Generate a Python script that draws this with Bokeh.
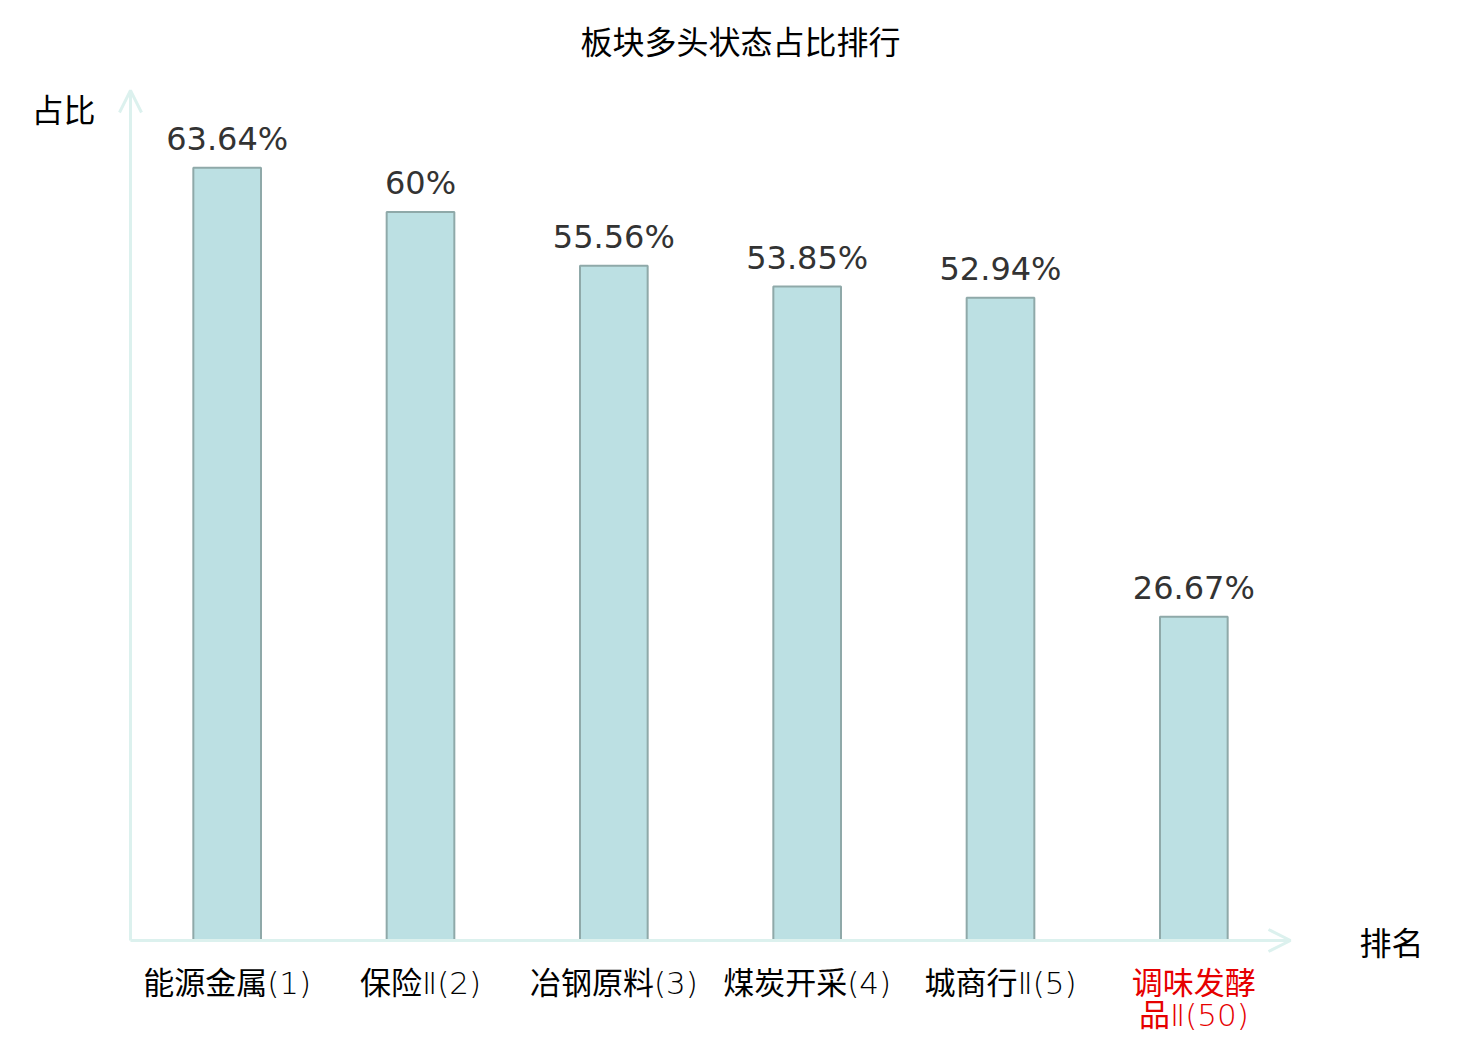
from bokeh.plotting import figure
from bokeh.models import ColumnDataSource, Arrow, OpenHead, Range1d
from bokeh.core.properties import value
from bokeh.embed import file_html
from bokeh.resources import INLINE

categories = ["能源金属(1)", "保险Ⅱ(2)", "冶钢原料(3)", "煤炭开采(4)", "城商行Ⅱ(5)", "调味发酵品Ⅱ(50)"]
display_labels = ["能源金属(1)", "保险Ⅱ(2)", "冶钢原料(3)", "煤炭开采(4)", "城商行Ⅱ(5)", "调味发酵\n品Ⅱ(50)"]
label_colors = ["#000000", "#000000", "#000000", "#000000", "#000000", "#e60000"]
values = [63.64, 60, 55.56, 53.85, 52.94, 26.67]
value_texts = ["63.64%", "60%", "55.56%", "53.85%", "52.94%", "26.67%"]
title_text = "板块多头状态占比排行"
y_name = "占比"
x_name = "排名"
y_max = 70

W, H = 1464, 1032
AXIS_COLOR = "#dcf1ee"
CJK = value("Noto Sans CJK SC")
MIXED = value("DejaVu Sans ExtraLight, DejaVu Sans Light, DejaVu Sans, Noto Sans CJK SC")

n = len(categories)
idx = list(range(n))

p = figure(width=W, height=H, x_range=Range1d(-1.1724, 6.4), y_range=Range1d(-7.576, 77.412),
           output_backend="svg", toolbar_location=None,
           min_border=0, x_axis_location=None, y_axis_location=None)
p.outline_line_color = None
p.grid.visible = False
p.background_fill_color = "white"

src = ColumnDataSource(dict(i=idx, cat=categories, val=values, vtxt=value_texts,
                            lab=display_labels, col=label_colors,
                            ly=[-1.98] * n))

# axes with arrows
p.add_layout(Arrow(end=OpenHead(size=22, line_color=AXIS_COLOR, line_width=3),
                   x_start=-0.5, y_start=0, x_end=n - 0.5, y_end=0,
                   line_color=AXIS_COLOR, line_width=3))
p.add_layout(Arrow(end=OpenHead(size=22, line_color=AXIS_COLOR, line_width=3),
                   x_start=-0.5, y_start=0, x_end=-0.5, y_end=y_max,
                   line_color=AXIS_COLOR, line_width=3))

p.vbar(x="i", top="val", width=0.35, source=src, fill_color="#bce0e3",
       line_color="#8fa9a9", line_width=2)

p.text(x="i", y="val", text="vtxt", source=src, text_align="center",
       text_baseline="bottom", y_offset=-10, text_font=value("DejaVu Sans"),
       text_font_size="32px", text_color="#333333")

p.text(x="i", y="ly", text="lab", source=src, text_align="center",
       text_baseline="top", text_font=MIXED, text_font_size="31px",
       text_color="col", text_line_height=0.89)

p.text(x=[2.655], y=[74.2], text=[title_text], text_align="center",
       text_baseline="middle", text_font=CJK, text_font_size="32px", text_color="#000000")
p.text(x=[-0.8465], y=[68.6], text=[y_name], text_align="center",
       text_baseline="middle", text_font=CJK, text_font_size="32px", text_color="#000000")
p.text(x=[6.0226], y=[0], text=[x_name], text_align="center",
       text_baseline="middle", text_font=CJK, text_font_size="32px", text_color="#000000")

open("out.html", "w").write(file_html(p, INLINE))
